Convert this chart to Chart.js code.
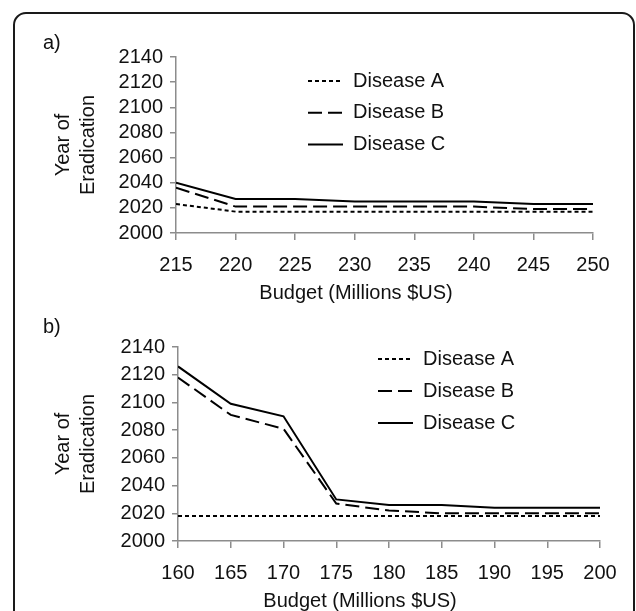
<!DOCTYPE html>
<html>
<head>
<meta charset="utf-8">
<script src="https://cdn.jsdelivr.net/npm/chart.js@4"></script>
<style>
  html, body { margin: 0; padding: 0; background: #fff; width: 636px; height: 611px; overflow: hidden; }
  #frame { position: absolute; left: 13px; top: 12px; width: 622px; height: 720px;
           border: 2px solid #1a1a1a; border-radius: 13px; box-sizing: border-box; }
  canvas { position: absolute; left: 0; }
  #chartA { top: 0; }
  #chartB { top: 300px; }
</style>
</head>
<body>
<div id="frame"></div>
<canvas id="chartA" width="636" height="320"></canvas>
<canvas id="chartB" width="636" height="311"></canvas>
<script>
// Panel a) budgets and eradication years
const budgetsA = [215, 220, 225, 230, 235, 240, 245, 250];
const panelA_diseaseA = [2023, 2017, 2017, 2017, 2017, 2017, 2017, 2017];
const panelA_diseaseB = [2036, 2021, 2021, 2021, 2021, 2021, 2019, 2019];
const panelA_diseaseC = [2040, 2027, 2027, 2025, 2025, 2025, 2023, 2023];

// Panel b) budgets and eradication years
const budgetsB = [160, 165, 170, 175, 180, 185, 190, 195, 200];
const panelB_diseaseA = [2018, 2018, 2018, 2018, 2018, 2018, 2018, 2018, 2018];
const panelB_diseaseB = [2118, 2091, 2081, 2027, 2022, 2020, 2020, 2020, 2020];
const panelB_diseaseC = [2126, 2099, 2090, 2030, 2026, 2026, 2024, 2024, 2024];

const seriesNames = ['Disease A', 'Disease B', 'Disease C'];
const yTickMin = 2000, yTickMax = 2140, yTickStep = 20;
const xTickStep = 5;
const yTitleLines = ['Year of', 'Eradication'];
const xTitle = 'Budget (Millions $US)';

const FONT = "'Liberation Sans', Arial, sans-serif";
const INK = '#111';
const AXIS = '#8c8c8c';
const dashes = [[4, 3], [14, 6], []];

// Line-style key drawn inside the plot area
const keyPlugin = {
  id: 'lineKey',
  afterDatasetsDraw(chart, args, opts) {
    const ctx = chart.ctx;
    ctx.save();
    ctx.font = '20px ' + FONT;
    ctx.textBaseline = 'middle';
    ctx.fillStyle = INK;
    chart.data.datasets.forEach((ds, i) => {
      const y = opts.y + i * opts.gap;
      ctx.beginPath();
      ctx.strokeStyle = ds.borderColor;
      ctx.lineWidth = ds.borderWidth;
      ctx.setLineDash(ds.borderDash || []);
      ctx.moveTo(opts.x, y);
      ctx.lineTo(opts.x + opts.sample, y);
      ctx.stroke();
      ctx.setLineDash([]);
      ctx.fillText(ds.label, opts.x + opts.sample + 10, y);
    });
    ctx.restore();
  }
};

// Horizontal axis caption
const captionPlugin = {
  id: 'xCaption',
  afterDraw(chart, args, opts) {
    const ctx = chart.ctx;
    ctx.save();
    ctx.font = '20px ' + FONT;
    ctx.fillStyle = INK;
    ctx.textAlign = 'center';
    ctx.textBaseline = 'middle';
    ctx.fillText(opts.text, opts.x, opts.y);
    ctx.restore();
  }
};

function buildChart(canvasId, cfg) {
  const datasets = cfg.series.map((vals, i) => ({
    label: seriesNames[i],
    data: cfg.budgets.map((b, j) => ({ x: b, y: vals[j] })),
    borderColor: '#000',
    borderWidth: 2,
    borderDash: dashes[i],
    pointRadius: 0,
    pointHoverRadius: 0,
    tension: 0,
    fill: false
  }));
  return new Chart(document.getElementById(canvasId), {
    type: 'line',
    data: { datasets },
    plugins: [keyPlugin, captionPlugin],
    options: {
      responsive: false,
      animation: false,
      events: [],
      layout: { padding: cfg.padding },
      plugins: {
        legend: { display: false },
        tooltip: { enabled: false },
        title: {
          display: true,
          text: cfg.panel,
          align: 'start',
          color: INK,
          font: { family: FONT, size: 20, weight: 'normal', lineHeight: 1.2 },
          padding: cfg.titlePad
        },
        lineKey: cfg.key,
        xCaption: { text: xTitle, x: cfg.caption.x, y: cfg.caption.y }
      },
      scales: {
        x: {
          type: 'linear',
          min: cfg.budgets[0],
          max: cfg.budgets[cfg.budgets.length - 1],
          afterFit: s => { s.height = cfg.xAxisHeight; },
          ticks: {
            stepSize: xTickStep,
            autoSkip: false,
            padding: 13,
            color: INK,
            font: { family: FONT, size: 20, lineHeight: 1.2 },
            maxRotation: 0,
            callback: v => String(v)
          },
          grid: { drawOnChartArea: false, drawTicks: true, tickLength: 7, color: AXIS, lineWidth: 1.5 },
          border: { display: true, color: AXIS, width: 1.5 }
        },
        y: {
          type: 'linear',
          min: yTickMin,
          max: yTickMax,
          afterFit: s => { s.width = cfg.yAxisWidth; },
          ticks: {
            stepSize: yTickStep,
            autoSkip: false,
            padding: 7,
            color: INK,
            font: { family: FONT, size: 20, lineHeight: 1.2 },
            callback: v => String(v)
          },
          grid: { drawOnChartArea: false, drawTicks: true, tickLength: 6, color: AXIS, lineWidth: 1.5 },
          border: { display: true, color: AXIS, width: 1.5 },
          title: {
            display: true,
            text: yTitleLines,
            color: INK,
            font: { family: FONT, size: 20, lineHeight: 1.25 },
            padding: { top: 7.5, bottom: 0 }
          }
        }
      }
    }
  });
}

buildChart('chartA', {
  panel: 'a)',
  budgets: budgetsA,
  series: [panelA_diseaseA, panelA_diseaseB, panelA_diseaseC],
  padding: { left: 43, right: 43, top: 20, bottom: 0 },
  titlePad: { top: 11, bottom: 2 },
  yAxisWidth: 133,
  xAxisHeight: 87,
  key: { x: 308, y: 81, gap: 31.7, sample: 35 },
  caption: { x: 356, y: 293 }
});

buildChart('chartB', {
  panel: 'b)',
  budgets: budgetsB,
  series: [panelB_diseaseA, panelB_diseaseB, panelB_diseaseC],
  padding: { left: 43, right: 36, top: 6, bottom: 0 },
  titlePad: { top: 9.5, bottom: 7.5 },
  yAxisWidth: 135,
  xAxisHeight: 70,
  key: { x: 378, y: 59, gap: 32, sample: 35 },
  caption: { x: 360, y: 301.5 }
});
</script>
</body>
</html>
